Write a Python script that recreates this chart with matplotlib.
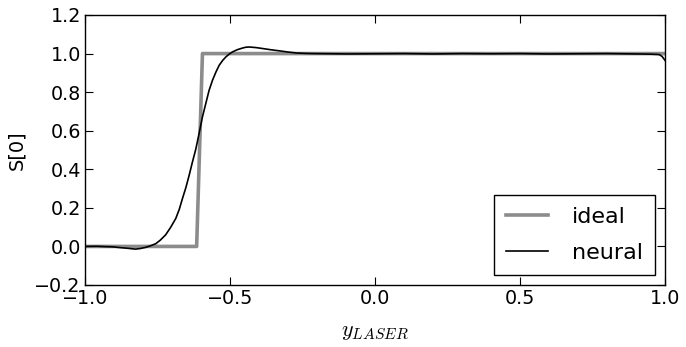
import matplotlib
matplotlib.use("Agg")
import matplotlib.pyplot as plt

ideal_x = [-1.0, -0.615, -0.595, 1.0]
ideal_y = [0.0, 0.0, 1.0, 1.0]

neural_x = [-1.0, -0.96, -0.93, -0.906, -0.88, -0.85, -0.826, -0.81, -0.791, -0.775,
            -0.756, -0.74, -0.722, -0.705, -0.687, -0.675, -0.664, -0.652, -0.641,
            -0.63, -0.618, -0.606, -0.595, -0.583, -0.572, -0.560, -0.548, -0.537,
            -0.525, -0.514, -0.502, -0.491, -0.475, -0.456, -0.445, -0.433, -0.41,
            -0.387, -0.36, -0.329, -0.30, -0.271, -0.24, -0.214, -0.15, -0.098,
            0.0, 0.1, 0.2, 0.3, 0.4, 0.5, 0.6, 0.7, 0.8, 0.9, 0.95, 0.98, 0.99, 1.0]
neural_y = [0.0, 0.001, -0.001, -0.002, -0.006, -0.01, -0.014, -0.011, -0.005, 0.003,
            0.014, 0.033, 0.06, 0.098, 0.145, 0.192, 0.248, 0.306, 0.368,
            0.435, 0.504, 0.59, 0.672, 0.744, 0.81, 0.863, 0.906, 0.94,
            0.965, 0.983, 0.998, 1.009, 1.02, 1.029, 1.033, 1.034, 1.031,
            1.026, 1.02, 1.014, 1.008, 1.003, 1.001, 1.0, 0.999, 0.998,
            0.999, 1.0, 0.998, 1.0, 0.999, 1.0, 0.998, 0.999, 1.0, 0.998, 0.997, 0.995, 0.985, 0.965]

x_ticks = [-1.0, -0.5, 0.0, 0.5, 1.0]
y_ticks = [-0.2, 0.0, 0.2, 0.4, 0.6, 0.8, 1.0, 1.2]

plt.rcParams['font.family'] = ['DejaVu Sans']
plt.rcParams['mathtext.fontset'] = 'cm'

fig = plt.figure(figsize=(6.86, 3.47), dpi=100)
ax = fig.add_axes([85/686, 1 - 285/347, 580/686, 270/347])

ax.plot(ideal_x, ideal_y, color='#8c8c8c', lw=2.6, label='ideal')
ax.plot(neural_x, neural_y, color='black', lw=1.2, label='neural')

ax.set_xlim(-1.0, 1.0)
ax.set_ylim(-0.2, 1.2)
ax.set_xticks(x_ticks)
ax.set_yticks(y_ticks)
ax.set_xticklabels([f"{v:.1f}".replace('-', '\u2212') for v in x_ticks])
ax.set_yticklabels([f"{v:.1f}".replace('-', '\u2212') for v in y_ticks])
ax.tick_params(direction='in', top=True, right=True, length=6, width=0.8,
               labelsize=13.8, pad=3)
for s in ax.spines.values():
    s.set_linewidth(1.0)

ax.set_xlabel(r'$y_{LASER}$', fontsize=16, labelpad=10)
ax.set_ylabel('S[0]', fontsize=14, labelpad=6)

leg = ax.legend(loc='lower right', fontsize=16, fancybox=False, framealpha=1,
                edgecolor='black', borderaxespad=0.45, handlelength=1.9,
                handletextpad=1.05, borderpad=0.55, labelspacing=0.72)
leg.get_frame().set_linewidth(1.0)

fig.savefig('out.png', dpi=100)
